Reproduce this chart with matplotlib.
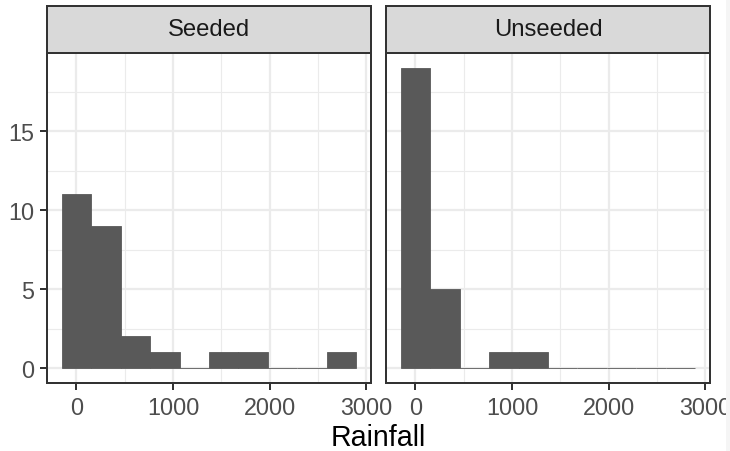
''' Faceted histogram of rainfall, seeded vs unseeded clouds (ggplot theme_bw look) '''

import numpy as np
import matplotlib
matplotlib.use('Agg')
import matplotlib.pyplot as plt
from matplotlib.patches import Rectangle

# Data: 10 bins over the rainfall range
rain_min = 1.0
rain_max = 2745.6
n_bins = 10
panels = ['Seeded', 'Unseeded']
seeded_counts = [11, 9, 2, 1, 0, 1, 1, 0, 0, 1]
unseeded_counts = [19, 5, 0, 1, 1, 0, 0, 0, 0, 0]
x_ticks = [0, 1000, 2000, 3000]
y_ticks = [0, 5, 10, 15]

plt.rcParams['font.family'] = ['Liberation Sans', 'DejaVu Sans']

centers = np.linspace(rain_min, rain_max, n_bins)
bin_width = centers[1] - centers[0]
x_lo = centers[0] - bin_width / 2
x_hi = centers[-1] + bin_width / 2
x_pad = 0.05 * (x_hi - x_lo)
y_max = max(max(seeded_counts), max(unseeded_counts))

px = 0.72  # one pixel in points at dpi 100
fig = plt.figure(figsize=(7.3, 4.52), dpi=100)
W, H = 730, 452

def fig_box(left, top, right, bottom):
    return [left / W, (H - bottom) / H, (right - left) / W, (bottom - top) / H]

panel_x = [(47, 371), (386, 710)]
for i, (name, counts) in enumerate(zip(panels, [seeded_counts, unseeded_counts])):
    left, right = panel_x[i]
    ax = fig.add_axes(fig_box(left, 54, right, 384))
    ax.set_xlim(x_lo - x_pad, x_hi + x_pad)
    ax.set_ylim(-0.05 * y_max, 1.05 * y_max)

    # grid
    for v in [500, 1500, 2500]:
        ax.axvline(v, color='#EBEBEB', lw=1.1 * px, zorder=0)
    for v in [2.5, 7.5, 12.5, 17.5]:
        ax.axhline(v, color='#EBEBEB', lw=1.1 * px, zorder=0)
    for v in x_ticks:
        ax.axvline(v, color='#EBEBEB', lw=2.2 * px, zorder=0)
    for v in y_ticks:
        ax.axhline(v, color='#EBEBEB', lw=2.2 * px, zorder=0)

    ax.bar(centers, counts, width=bin_width, color='#595959',
           edgecolor='#595959', linewidth=0.6, zorder=2)

    ax.set_xticks(x_ticks)
    ax.set_yticks(y_ticks)
    ax.tick_params(length=7 * px, width=2 * px, color='#333333',
                   labelsize=16.8, labelcolor='#4D4D4D', pad=4)
    if i > 0:
        ax.tick_params(axis='y', left=False, labelleft=False)
    for s in ax.spines.values():
        s.set_color('#333333')
        s.set_linewidth(2 * px)
        s.set_zorder(5)

    # strip
    sax = fig.add_axes(fig_box(left, 7, right, 54))
    sax.set_facecolor('#D9D9D9')
    sax.set_xticks([])
    sax.set_yticks([])
    for s in sax.spines.values():
        s.set_color('#333333')
        s.set_linewidth(2 * px)
    sax.text(0.5, 0.5, name, ha='center', va='center', fontsize=17.2,
             color='#1A1A1A', transform=sax.transAxes)

fig.text(378.5 / W, 6 / H, 'Rainfall', ha='center', va='baseline',
         fontsize=20.6, color='black')

# the reference image is clipped at its right edge
fig.patches.append(Rectangle((726 / W, 0), 4 / W, 1, transform=fig.transFigure,
                             facecolor='#F5F5F5', edgecolor='none', zorder=10))

fig.savefig('out.png', dpi=100)
